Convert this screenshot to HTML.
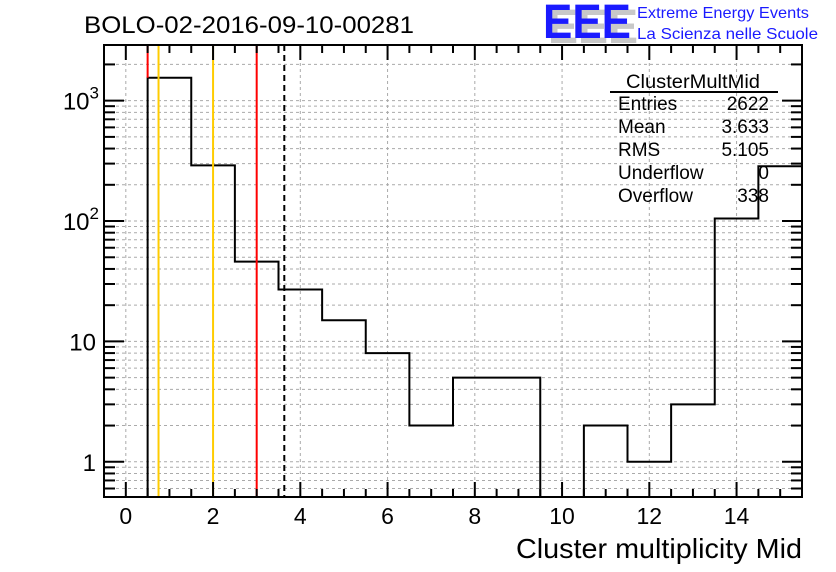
<!DOCTYPE html>
<html><head><meta charset="utf-8"><style>
body{margin:0;background:#fff;}
svg{display:block;font-family:"Liberation Sans",sans-serif;}
</style></head><body>
<svg id="c" width="836" height="572" viewBox="0 0 836 572">
<rect width="836" height="572" fill="#fff"/>
<g id="grid"></g>
<g id="hist"></g>
<g id="marks"></g>
<g id="axes"></g>
<text x="84" y="33" font-size="24" textLength="330" lengthAdjust="spacingAndGlyphs">BOLO-02-2016-09-10-00281</text>
<g>
<text x="548" y="43" font-size="48" font-weight="bold" fill="#c8c8c8" textLength="90" lengthAdjust="spacingAndGlyphs">EEE</text>
<text x="543" y="38" font-size="48" font-weight="bold" fill="#1a1aff" textLength="88" lengthAdjust="spacingAndGlyphs">EEE</text>
<text x="637" y="18" font-size="16" fill="#1a1aff" textLength="172" lengthAdjust="spacingAndGlyphs">Extreme Energy Events</text>
<text x="637" y="39" font-size="16" fill="#1a1aff" textLength="181" lengthAdjust="spacingAndGlyphs">La Scienza nelle Scuole</text>
</g>
<g font-size="19">
<text x="693" y="88" text-anchor="middle" textLength="134" lengthAdjust="spacingAndGlyphs">ClusterMultMid</text>
<line x1="610" y1="92" x2="778" y2="92" stroke="#000" stroke-width="2"/>
<text x="618" y="110">Entries</text><text x="769" y="110" text-anchor="end">2622</text>
<text x="618" y="133">Mean</text><text x="769" y="133" text-anchor="end">3.633</text>
<text x="618" y="156">RMS</text><text x="769" y="156" text-anchor="end">5.105</text>
<text x="618" y="179">Underflow</text><text x="769" y="179" text-anchor="end">0</text>
<text x="618" y="202">Overflow</text><text x="769" y="202" text-anchor="end">338</text>
</g>
<text x="802" y="558" font-size="28" text-anchor="end" textLength="286" lengthAdjust="spacingAndGlyphs">Cluster multiplicity Mid</text>
</svg>
<script>
const binCenters=[0,1,2,3,4,5,6,7,8,9,10,11,12,13,14,15];
const counts=[0,1550,290,46,27,15,8,2,5,5,0,2,1,3,105,285];
const xTicks=[0,2,4,6,8,10,12,14];
const yTickValues=[1,10,100,1000];
const yTickLabels=["1","10","10²","10³"];
const markerX=[0.5,0.75,2,3,3.633];
const markerColors=["#ff0000","#ffcc00","#ffcc00","#ff0000","#000"];

const L=104,R=802,T=45,B=497,xmin=-0.5,xmax=15.5;
const ymin=Math.log10(0.51),ymax=Math.log10(2900);
const X=v=>L+(v-xmin)/(xmax-xmin)*(R-L);
const Y=v=>B-(Math.log10(v)-ymin)/(ymax-ymin)*(B-T);
const NS="http://www.w3.org/2000/svg";
function mk(p,t,a){const e=document.createElementNS(NS,t);for(const k in a)e.setAttribute(k,a[k]);p.appendChild(e);return e;}
const grid=document.getElementById('grid'),axes=document.getElementById('axes'),hist=document.getElementById('hist'),marks=document.getElementById('marks');
const minors=[];
for(let d=-1;d<=3;d++)for(let m=1;m<=9;m++){const v=m*Math.pow(10,d);if(v>=0.51&&v<=2900)minors.push(v);}
minors.forEach(v=>{const g=mk(grid,'line',{x1:L,x2:R,y1:Y(v),y2:Y(v),stroke:'#aaa','stroke-dasharray':'3,3'});
});
xTicks.forEach(v=>{const g=mk(grid,'line',{x1:X(v),x2:X(v),y1:T,y2:B,stroke:'#aaa','stroke-dasharray':'3,3'});
});
let d='';
const yv=c=>c>0?Math.min(Math.max(Y(c),T),B):B;
binCenters.forEach((c,i)=>{const x0=X(c-0.5),x1=Math.min(X(c+0.5),R),y=yv(counts[i]);
if(i==0)d+=`M${x0},${y}`;else d+=`L${x0},${y}`;d+=`L${x1},${y}`;});
const h=mk(hist,'path',{d:d,fill:'none',stroke:'#000','stroke-width':2});

markerX.forEach((v,i)=>{const a={x1:X(v),x2:X(v),y1:T,y2:B,stroke:markerColors[i],'stroke-width':2};
if(i==4)a['stroke-dasharray']='6,4';if(i==0)a.y2=yv(counts[1]);const e=mk(marks,'line',a);
});
const f=mk(axes,'rect',{x:L,y:T,width:R-L,height:B-T,fill:'none',stroke:'#000','stroke-width':2});

for(let v=0;v<=15.5;v+=0.5){const maj=v%2==0,len=maj?15:8;
mk(axes,'line',{x1:X(v),x2:X(v),y1:B,y2:B-len,stroke:'#000','stroke-width':2});
mk(axes,'line',{x1:X(v),x2:X(v),y1:T,y2:T+len,stroke:'#000','stroke-width':2});}
xTicks.forEach(v=>{const t=mk(axes,'text',{x:X(v),y:524,'font-size':23,'text-anchor':'middle'});t.textContent=v;
});
minors.forEach(v=>{const maj=yTickValues.includes(v),len=maj?20:11;
mk(axes,'line',{x1:L,x2:L+len,y1:Y(v),y2:Y(v),stroke:'#000','stroke-width':2});
mk(axes,'line',{x1:R,x2:R-len,y1:Y(v),y2:Y(v),stroke:'#000','stroke-width':2});});
yTickValues.forEach((v,i)=>{const t=mk(axes,'text',{x:96,y:Y(v)+9,'font-size':24,'text-anchor':'end'});
const lab=yTickLabels[i];
if(lab.length>2){t.textContent='10';const s=mk(t,'tspan',{dy:-11,'font-size':17});s.textContent=lab.endsWith('³')?'3':'2';t.setAttribute('x',99);}
else t.textContent=lab;
});
</script>
</body></html>
